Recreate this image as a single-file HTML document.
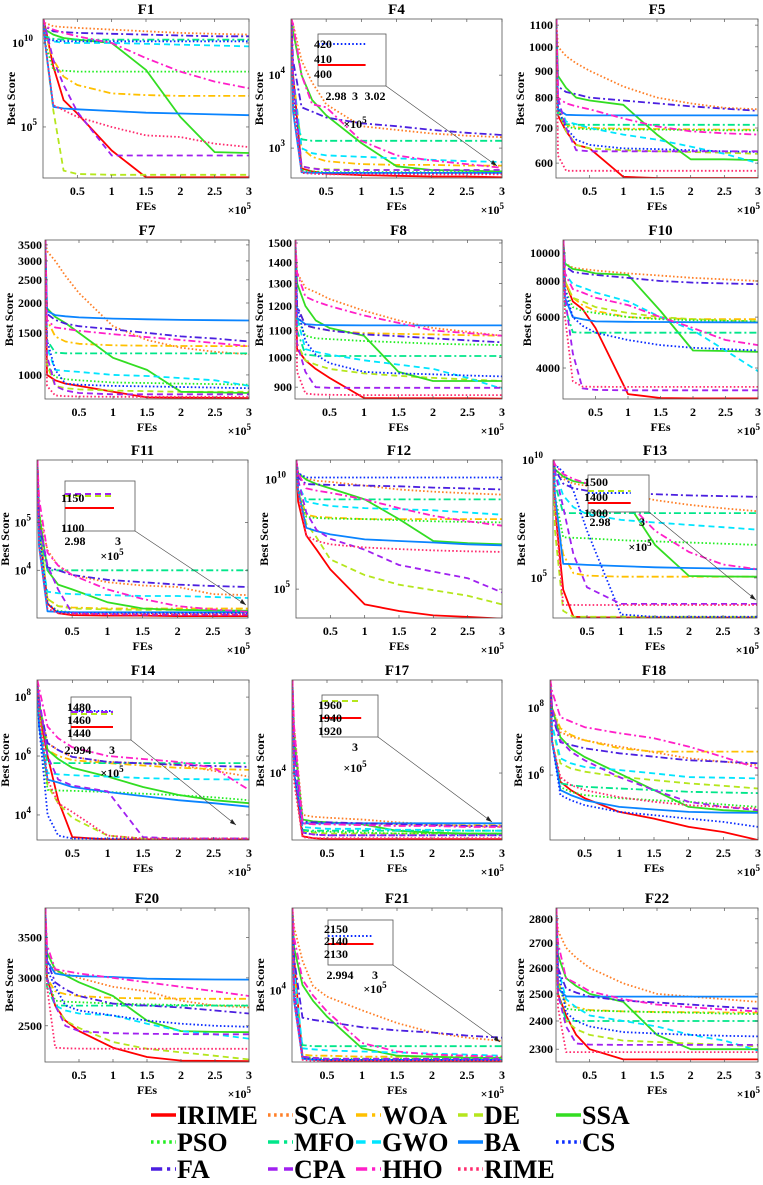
<!DOCTYPE html>
<html><head><meta charset="utf-8">
<style>
html,body{margin:0;padding:0;background:#fff;}
svg{display:block;}
svg text{font-family:"Liberation Serif","Times New Roman",serif;font-weight:bold;}
</style></head>
<body>
<svg id="fig" width="763" height="1185" viewBox="0 0 763 1185" xmlns="http://www.w3.org/2000/svg" font-family="Liberation Serif, serif" font-weight="bold"></svg>
<script>
// ---- data ----
const xPoints = [0.03,0.15,0.3,0.5,1,1.5,2,2.5,3]; // FEs x1e5
const algoNames = ["IRIME","SCA","WOA","DE","SSA","PSO","MFO","GWO","BA","CS","FA","CPA","HHO","RIME"];
const panelTitles = ["F1","F4","F5","F7","F8","F10","F11","F12","F13","F14","F17","F18","F20","F21","F22"];
const xTickLabels = ["0.5","1","1.5","2","2.5","3"];
// per-panel values (exp panels store log10 of score)
const F1 = [
[11,8.6,6.6,5.8,3.6,2.0,2.0,2.0,2.0],
[11.2,11.0,10.95,10.9,10.8,10.7,10.6,10.55,10.5],
[10.5,9,8,7.5,7,6.9,6.85,6.85,6.85],
[10,6,2.4,2.2,2.15,2.15,2.15,2.15,2.15],
[10.8,10.5,10.3,10.2,10.0,8.4,5.6,3.5,3.45],
[10,8.4,8.35,8.3,8.3,8.3,8.3,8.3,8.3],
[10.4,10.25,10.2,10.2,10.2,10.2,10.2,10.2,10.2],
[10.2,10.1,10.0,10.0,10.0,9.95,9.9,9.85,9.8],
[10,6.2,6.1,6.05,5.95,5.85,5.8,5.75,5.7],
[10.3,10.15,10.1,10.1,10.1,10.1,10.1,10.1,10.1],
[11,10.7,10.65,10.6,10.55,10.5,10.45,10.4,10.4],
[11,9,7.5,5.9,3.3,3.3,3.3,3.3,3.3],
[11,10.8,10.6,10.4,10.0,9.1,8.3,7.7,7.3],
[10,6.3,6.0,5.6,5.0,4.5,4.4,4.0,3.8]];
const F4 = [
[4.0,2.72,2.68,2.65,2.63,2.62,2.61,2.61,2.6],
[4.7,4.2,3.9,3.6,3.3,3.25,3.2,3.17,3.15],
[4.0,3.0,2.88,2.82,2.78,2.77,2.77,2.76,2.76],
[4.0,2.75,2.72,2.71,2.7,2.7,2.7,2.7,2.7],
[4.6,4.0,3.66,3.45,3.07,2.75,2.7,2.69,2.68],
[3.8,2.7,2.68,2.67,2.67,2.67,2.67,2.67,2.67],
[3.6,3.12,3.1,3.1,3.1,3.1,3.1,3.1,3.1],
[4.0,3.0,2.93,2.9,2.88,2.86,2.84,2.82,2.81],
[3.5,2.67,2.66,2.66,2.66,2.66,2.66,2.66,2.66],
[3.8,2.66,2.65,2.65,2.65,2.65,2.65,2.65,2.65],
[4.2,3.56,3.5,3.42,3.34,3.3,3.25,3.21,3.18],
[4.0,2.75,2.72,2.7,2.7,2.7,2.7,2.7,2.7],
[4.7,4.0,3.6,3.56,3.1,2.9,2.83,2.78,2.73],
[3.6,2.66,2.65,2.64,2.64,2.64,2.64,2.64,2.64]];
const F5 = [
[740,690,650,640,565,562,562,562,562],
[1000,960,930,900,840,800,780,765,760],
[760,710,702,700,698,697,696,695,695],
[760,690,650,640,635,632,630,628,625],
[880,835,800,790,775,680,610,610,608],
[760,705,698,696,695,695,694,693,693],
[740,712,710,710,710,710,710,710,710],
[780,720,712,700,680,665,645,625,600],
[760,742,741,740,740,740,740,740,740],
[760,700,665,650,640,638,635,632,630],
[840,820,812,800,790,780,770,762,755],
[800,700,635,632,632,632,632,632,632],
[800,780,770,760,730,705,690,684,680],
[620,580,580,580,580,580,580,580,580]];
const F7 = [
[1000,950,920,900,850,805,803,802,800],
[3300,3000,2600,2200,1600,1400,1300,1250,1220],
[1700,1450,1380,1350,1330,1325,1322,1320,1320],
[1100,900,880,870,860,855,850,850,850],
[1900,1750,1650,1500,1180,1050,850,845,840],
[1100,980,960,950,930,925,920,915,910],
[1400,1240,1232,1230,1230,1230,1230,1230,1230],
[1300,1050,1040,1030,1000,990,970,950,900],
[1850,1780,1760,1740,1720,1710,1700,1695,1690],
[1400,1050,920,910,900,895,890,885,880],
[1800,1700,1640,1600,1550,1500,1450,1420,1380],
[1200,900,860,840,830,830,830,830,830],
[1700,1580,1560,1530,1480,1440,1400,1360,1320],
[900,820,815,812,810,810,810,810,810]];
const F8 = [
[1030,990,960,930,866,865,865,865,864],
[1350,1280,1260,1230,1180,1140,1110,1095,1080],
[1200,1120,1110,1100,1090,1087,1085,1082,1080],
[1050,990,975,960,945,937,930,925,920],
[1300,1200,1140,1110,1080,950,920,920,920],
[1150,1080,1070,1067,1060,1055,1050,1047,1045],
[1100,1010,1006,1005,1005,1005,1005,1005,1005],
[1150,1030,1020,1010,990,975,960,930,895],
[1150,1125,1122,1121,1120,1120,1120,1120,1120],
[1200,1060,1010,980,950,945,942,938,935],
[1200,1120,1110,1100,1085,1078,1070,1062,1055],
[1050,950,900,898,898,898,898,898,898],
[1350,1240,1220,1200,1160,1130,1100,1090,1080],
[950,880,877,876,875,875,875,875,875]];
const F10 = [
[8000,6800,6400,5500,3250,3150,3140,3140,3140],
[9200,8900,8800,8700,8500,8350,8200,8100,8000],
[8000,7000,6600,6300,6000,5950,5900,5900,5900],
[8000,7000,6800,6500,6200,6000,5900,5850,5800],
[9200,8800,8700,8500,8400,6300,4600,4580,4550],
[7500,6500,6300,6200,6000,5900,5850,5820,5800],
[6500,5320,5300,5300,5300,5300,5300,5300,5300],
[8500,7800,7600,7300,6800,6000,5400,4600,3900],
[7000,6000,5900,5800,5780,5770,5760,5755,5750],
[7500,6000,5600,5300,5000,4800,4700,4650,4600],
[9000,8600,8500,8400,8200,8000,7900,7850,7800],
[7000,4500,3400,3360,3350,3350,3350,3350,3350],
[8500,7500,7300,7000,6600,6000,5500,5000,4800],
[6000,3600,3450,3445,3440,3440,3440,3440,3440]];
const F11 = [
[5,3.3,3.1,3.06,3.05,3.05,3.04,3.04,3.04],
[5.2,4.42,4.1,3.9,3.75,3.68,3.65,3.5,3.48],
[5,3.4,3.25,3.22,3.2,3.2,3.2,3.2,3.2],
[5,3.4,3.25,3.2,3.18,3.17,3.17,3.16,3.16],
[5.2,4.0,3.7,3.6,3.33,3.2,3.17,3.16,3.15],
[4.8,3.3,3.15,3.12,3.11,3.1,3.1,3.1,3.1],
[4.8,4.0,4.0,4.0,4.0,4.0,4.0,4.0,4.0],
[4.5,3.55,3.52,3.5,3.48,3.46,3.46,3.44,3.42],
[4.5,3.14,3.13,3.12,3.12,3.12,3.12,3.12,3.12],
[4.8,3.3,3.12,3.1,3.1,3.1,3.1,3.1,3.1],
[5,4.06,4.0,3.9,3.8,3.75,3.7,3.67,3.65],
[5,4.1,3.6,3.1,3.08,3.07,3.07,3.07,3.07],
[5.5,4.37,4.1,3.9,3.6,3.4,3.25,3.18,3.13],
[4.5,3.2,3.1,3.09,3.08,3.08,3.08,3.08,3.08]];
const F12 = [
[9,7.45,6.8,5.9,4.3,4.0,3.8,3.73,3.65],
[10.3,10.05,9.95,9.9,9.73,9.55,9.45,9.38,9.32],
[9.5,8.4,8.3,8.27,8.2,8.2,8.2,8.2,8.2],
[9.5,8.0,7.36,6.36,5.64,5.2,4.95,4.7,4.3],
[10.3,10.0,9.8,9.6,9.1,8.2,7.2,7.1,7.05],
[9.5,8.3,8.25,8.22,8.2,8.15,8.1,8.07,8.05],
[9.5,9.1,9.1,9.1,9.1,9.1,9.1,9.1,9.1],
[9.8,9.0,8.9,8.8,8.7,8.65,8.6,8.5,8.4],
[9.5,7.8,7.65,7.5,7.27,7.2,7.13,7.05,7.0],
[10.3,10.1,10.1,10.1,10.1,10.1,10.1,10.1,10.1],
[10.1,9.8,9.78,9.76,9.73,9.7,9.64,9.6,9.55],
[10,8.5,7.7,7.3,6.8,6.1,5.8,5.5,4.85],
[10.3,9.6,9.5,9.4,9.1,8.7,8.35,8.1,7.9],
[9.5,7.45,7.2,7.05,6.9,6.83,6.77,6.73,6.7]];
const F13 = [
[8,4.5,3.35,3.33,3.32,3.32,3.32,3.32,3.32],
[9.6,9.2,9.0,8.9,8.6,8.3,8.1,7.95,7.83],
[8,6.0,5.2,5.1,5.05,5.05,5.05,5.05,5.05],
[7,3.6,3.35,3.35,3.35,3.35,3.35,3.35,3.35],
[9.6,9.3,9.1,9.0,8.6,6.4,5.08,5.06,5.05],
[8.5,6.72,6.7,6.68,6.6,6.55,6.5,6.45,6.4],
[9,7.75,7.75,7.75,7.75,7.75,7.75,7.75,7.75],
[9.5,8.5,8.0,7.7,7.46,7.35,7.25,7.15,7.05],
[8.5,5.6,5.58,5.55,5.5,5.45,5.42,5.4,5.37],
[9.8,9.5,8.7,7.0,3.45,3.35,3.35,3.35,3.35],
[9.6,9.0,8.8,8.7,8.6,8.55,8.5,8.47,8.44],
[9.5,8.0,6.0,4.6,3.9,3.9,3.9,3.9,3.9],
[9.8,9.4,9.2,9.0,8.5,7.0,6.1,5.57,5.37],
[8,3.85,3.85,3.85,3.85,3.85,3.85,3.85,3.85]];
const F14 = [
[7.5,6.0,4.5,3.25,3.17,3.17,3.17,3.17,3.17],
[7.8,6.44,6.2,5.97,5.8,5.76,5.7,5.5,5.3],
[7.8,6.2,6.0,5.86,5.76,5.68,5.6,5.56,5.53],
[7.5,5.0,4.4,3.9,3.3,3.2,3.2,3.2,3.2],
[7.8,6.2,5.9,5.6,5.3,4.95,4.68,4.5,4.4],
[7,4.85,4.83,4.82,4.78,4.72,4.67,4.6,4.5],
[7,5.76,5.76,5.76,5.76,5.76,5.76,5.76,5.76],
[7,5.42,5.38,5.35,5.3,5.25,5.22,5.21,5.2],
[7,5.2,5.1,4.95,4.78,4.64,4.5,4.4,4.28],
[7,4.0,3.3,3.2,3.2,3.2,3.2,3.2,3.2],
[7.8,6.44,6.2,5.97,5.8,5.75,5.7,5.66,5.63],
[8,6.0,5.2,5.0,4.8,3.25,3.2,3.2,3.2],
[8.3,7.0,6.6,6.3,6.0,5.9,5.8,5.6,4.85],
[7.5,5.2,4.4,4.1,3.3,3.2,3.2,3.2,3.2]];
const F17 = [
[4.0,3.32,3.3,3.29,3.29,3.29,3.29,3.29,3.29],
[4.5,3.55,3.53,3.52,3.5,3.47,3.45,3.43,3.42],
[4.2,3.46,3.45,3.45,3.44,3.44,3.44,3.44,3.44],
[4.2,3.38,3.36,3.35,3.35,3.35,3.35,3.35,3.35],
[4.4,3.5,3.48,3.47,3.45,3.38,3.36,3.35,3.35],
[4.0,3.38,3.37,3.37,3.36,3.35,3.35,3.34,3.34],
[4.0,3.39,3.38,3.38,3.38,3.38,3.38,3.38,3.38],
[4.2,3.42,3.41,3.4,3.4,3.39,3.39,3.38,3.38],
[4.0,3.46,3.46,3.46,3.46,3.46,3.46,3.46,3.46],
[4.0,3.36,3.34,3.33,3.33,3.33,3.33,3.33,3.33],
[4.3,3.48,3.47,3.47,3.46,3.45,3.44,3.43,3.43],
[4.2,3.36,3.34,3.33,3.33,3.33,3.33,3.33,3.33],
[4.5,3.46,3.45,3.45,3.44,3.43,3.43,3.42,3.42],
[3.9,3.31,3.3,3.3,3.3,3.3,3.3,3.3,3.3]];
const F18 = [
[7,5.8,5.55,5.31,4.9,4.7,4.45,4.3,4.06],
[8,7.28,7.15,7.04,6.85,6.68,6.5,6.4,6.3],
[8,7.4,7.2,7.04,6.8,6.7,6.7,6.7,6.7],
[7.5,6.35,6.2,6.1,5.95,5.85,5.75,5.68,5.6],
[8,7.13,6.8,6.54,6.05,5.55,5.05,4.95,4.9],
[7,5.64,5.5,5.4,5.31,5.25,5.2,5.12,5.05],
[7,5.75,5.7,5.65,5.6,5.55,5.5,5.48,5.46],
[7.5,6.5,6.35,6.24,6.15,6.05,5.94,5.92,5.9],
[7,5.55,5.4,5.25,5.05,4.97,4.9,4.88,4.87],
[7,5.4,5.25,5.1,4.9,4.8,4.7,4.6,4.45],
[7.8,6.98,6.9,6.8,6.65,6.55,6.44,6.4,6.35],
[8,7.04,6.7,6.44,5.94,5.55,5.2,5.05,4.95],
[8.5,7.73,7.6,7.43,7.25,7.1,6.85,6.54,6.2],
[7,5.94,5.7,5.55,5.34,5.2,5.1,5.05,5.0]];
const F20 = [
[3000,2700,2550,2450,2300,2220,2190,2187,2185],
[3200,3080,3050,3000,2900,2850,2750,2700,2680],
[3000,2850,2820,2800,2780,2775,2772,2770,2770],
[3000,2700,2550,2480,2350,2290,2260,2230,2200],
[3300,3100,3030,2950,2800,2550,2450,2442,2440],
[3000,2750,2740,2735,2720,2712,2706,2702,2700],
[2900,2702,2700,2700,2700,2700,2700,2700,2700],
[3000,2700,2650,2620,2600,2520,2450,2420,2380],
[3200,3050,3030,3020,3010,2990,2985,2982,2980],
[3100,2900,2700,2650,2600,2550,2520,2500,2490],
[3200,2950,2870,2800,2720,2700,2680,2650,2620],
[3000,2700,2500,2450,2430,2425,2422,2420,2420],
[3400,3100,3080,3050,3000,2950,2900,2850,2800],
[2900,2300,2295,2292,2290,2290,2290,2290,2290]];
const F21 = [
[4.3,3.36,3.34,3.33,3.33,3.33,3.33,3.33,3.33],
[4.6,4.28,4.04,3.94,3.81,3.69,3.6,3.55,3.52],
[4.2,3.39,3.38,3.38,3.37,3.37,3.37,3.37,3.37],
[4.0,3.37,3.36,3.35,3.35,3.35,3.35,3.35,3.35],
[4.4,4.05,3.9,3.75,3.45,3.38,3.37,3.36,3.36],
[4.0,3.37,3.36,3.35,3.35,3.35,3.35,3.35,3.35],
[4.0,3.48,3.47,3.47,3.47,3.47,3.47,3.47,3.47],
[4.2,3.45,3.44,3.43,3.42,3.41,3.4,3.39,3.38],
[3.9,3.35,3.34,3.34,3.34,3.34,3.34,3.34,3.34],
[4.0,3.36,3.35,3.34,3.34,3.34,3.34,3.34,3.34],
[4.3,3.74,3.72,3.7,3.65,3.62,3.6,3.57,3.55],
[4.0,3.37,3.36,3.35,3.35,3.35,3.35,3.35,3.35],
[4.5,4.1,3.95,3.8,3.5,3.42,3.39,3.38,3.37],
[3.9,3.34,3.33,3.33,3.33,3.33,3.33,3.33,3.33]];
const F22 = [
[2500,2420,2350,2300,2265,2265,2265,2265,2265],
[2750,2680,2640,2600,2540,2500,2490,2480,2470],
[2550,2460,2450,2440,2435,2433,2432,2431,2430],
[2500,2400,2370,2350,2330,2325,2320,2315,2310],
[2650,2560,2530,2500,2470,2350,2300,2300,2300],
[2550,2445,2440,2438,2435,2432,2430,2427,2425],
[2500,2402,2400,2400,2400,2400,2400,2400,2400],
[2600,2480,2450,2420,2400,2380,2350,2330,2295],
[2520,2491,2490,2490,2490,2490,2490,2490,2490],
[2600,2430,2400,2380,2360,2355,2350,2347,2345],
[2600,2520,2505,2490,2475,2468,2460,2452,2445],
[2500,2380,2320,2316,2315,2315,2315,2315,2315],
[2700,2560,2540,2510,2480,2460,2450,2442,2435],
[2450,2290,2290,2290,2290,2290,2290,2290,2290]];
const panelSeries = [F1,F4,F5,F7,F8,F10,F11,F12,F13,F14,F17,F18,F20,F21,F22];
// axis domains (exp panels: log10 units)
const yDomains = [[1.96,11.43],[2.59,4.77],[562,1130],[793,3670],[863,1516],[3125,11090],[3.0,6.31],[3.68,10.9],[3.3,10.0],[3.15,8.58],[3.28,5.0],[4.06,8.84],[2178,3914],[3.32,4.78],[2256,2846]];
const expPanel = [true,true,false,false,false,false,true,true,true,true,true,true,false,true,false];
const yTickValues = [[5,10],[3,4],[600,700,800,900,1000,1100],[1000,1500,2000,2500,3000,3500],[900,1000,1100,1200,1300,1400,1500],[4000,6000,8000,10000],[4,5],[5,10],[5,10],[4,6,8],[4],[6,8],[2500,3000,3500],[4],[2300,2400,2500,2600,2700,2800]];

// ---- layout ----
const rowTB = [[19,178],[240,399],[460,618],[680,840],[908,1062]];
const panelLR = [[43,249],[291,502],[556,758],[45,249],[295,502],[563,758],[37,248],[296,502],[553,757],[37,249],[292,502],[550,758],[45,249],[292,502],[556,758]];
const colors = ["#ff0000","#ff7f27","#ffc000","#b5e61d","#33dd22","#22ee22","#00e68a","#00e5ff","#0a84ff","#0a2cff","#4b1fe0","#a020f0","#ff1fc8","#ff2a6d"];
const dashes = ["", "1.6,2.2", "7,3,2,3", "6,4", "", "1.6,2.2", "7,3,2,3", "6,4", "", "1.6,2.2", "7,3,2,3", "6,4", "7,3,2,3", "1.6,2.2"];
const FONT = "Liberation Serif, Times New Roman, serif";
const NS="http://www.w3.org/2000/svg";
const svg=document.getElementById('fig');
function mk(tag,attrs,parent){const e=document.createElementNS(NS,tag);for(const k in attrs)e.setAttribute(k,attrs[k]);if(tag==='text'){e.setAttribute('font-family',FONT);e.setAttribute('font-weight','bold');}(parent||svg).appendChild(e);return e;}

panelTitles.forEach((title,p)=>{
  const r=Math.floor(p/3);
  const [L,R]=panelLR[p]; const [T,B]=rowTB[r];
  const [d0,d1]=yDomains[p]; const ex=expPanel[p];
  const tr=v=>ex?v:Math.log10(v);
  const l0=tr(d0), l1=tr(d1);
  const sx=x=>L+(x/3)*(R-L);
  const sy=v=>B-(tr(v)-l0)/(l1-l0)*(B-T);
  const g=mk('g',{});
  
  
  const clipId='c'+p;
  const cp=mk('clipPath',{id:clipId},g); mk('rect',{x:L,y:T,width:R-L,height:B-T},cp);
  const t=mk('text',{x:(L+R)/2,y:T-5,'text-anchor':'middle','font-size':15},g);
    t.textContent=title;
  const lines=mk('g',{'clip-path':'url(#'+clipId+')'},g);
  panelSeries[p].forEach((vals,s)=>{
    let d='M'+sx(0.005).toFixed(1)+','+T;
    vals.forEach((v,i)=>{d+=' L'+sx(xPoints[i]).toFixed(1)+','+sy(v).toFixed(1);});
    const pth=mk('path',{d:d,fill:'none',stroke:colors[s],'stroke-width':1.8,'stroke-dasharray':dashes[s],'stroke-linejoin':'round'},lines);
    
    
  });
  const box=mk('rect',{x:L,y:T,width:R-L,height:B-T,fill:'none',stroke:'#555','stroke-width':0.8},g);
   
  xTickLabels.forEach(lab=>{
    const x=sx(parseFloat(lab));
    mk('line',{x1:x,y1:B,x2:x,y2:B-3,stroke:'#555','stroke-width':0.7},g);
    mk('line',{x1:x,y1:T,x2:x,y2:T+3,stroke:'#555','stroke-width':0.7},g);
    const tx=mk('text',{x:x,y:B+17,'text-anchor':'middle','font-size':12},g);
      tx.textContent=lab;
  });
  const xl=mk('text',{x:(L+R)/2,y:B+32,'text-anchor':'middle','font-size':12},g);
    xl.textContent='FEs';
  const xm=mk('text',{x:R+2,y:B+36,'text-anchor':'end','font-size':12},g);
   
  xm.innerHTML='\u00d710<tspan dy="-5" font-size="9">5</tspan>';
  yTickValues[p].forEach(v=>{
    const y=sy(v);
    mk('line',{x1:L,y1:y,x2:L+3,y2:y,stroke:'#555','stroke-width':0.7},g);
    mk('line',{x1:R,y1:y,x2:R-3,y2:y,stroke:'#555','stroke-width':0.7},g);
    const ty=mk('text',{x:L-3,y:y+4,'text-anchor':'end','font-size':12},g);
     
    if(ex){ty.innerHTML='10<tspan dy="-6" font-size="9">'+v+'</tspan>';ty.setAttribute('x',L-(v>=10?10:6));}
    else ty.textContent=v;
  });
  const yl=mk('text',{x:0,y:0,'text-anchor':'middle','font-size':12,transform:'translate('+(L-(ex?28:32))+','+((T+B)/2)+') rotate(-90)'},g);
    yl.textContent='Best Score';
});

// ---- insets (zoom boxes) ----
const insets=[
 {box:[318,34,386,86],labs:["420","410","400"],labY:[44,59,74],xl:["2.98","3","3.02"],xlx:[336,355,375],lines:[["#0a2cff","1.6,2.2",44],["#ff0000","",65]],end:[497,166],mult:[355,128]},
 {box:[65,481,135,531],labs:["1150","1100"],labY:[498,528],xl:["2.98","3"],xlx:[75,118],lines:[["#a020f0","6,4",494],["#b5e61d","6,4",496],["#ff0000","",508]],end:[246,605],mult:[112,560]},
 {box:[588,475,649,512],labs:["1500","1400","1300"],labY:[482,497,513],xl:["2.98","3"],xlx:[600,642],lines:[["#b5e61d","6,4",491],["#0a2cff","1.6,2.2",493],["#ff0000","",503]],end:[756,600],mult:[640,551]},
 {box:[71,697,131,740],labs:["1480","1460","1440"],labY:[707,720,733],xl:["2.994","3"],xlx:[78,112],lines:[["#0a2cff","1.6,2.2",711],["#a020f0","7,3,2,3",712],["#b5e61d","6,4",714],["#ff0000","",727]],end:[236,825],mult:[112,777]},
 {box:[322,695,378,737],labs:["1960","1940","1920"],labY:[705,718,731],xl:["3"],xlx:[355],lines:[["#b5e61d","6,4",701],["#ff0000","",718]],end:[492,822],mult:[355,772]},
 {box:[328,920,393,965],labs:["2150","2140","2130"],labY:[929,941,954],xl:["2.994","3"],xlx:[340,375],lines:[["#0a2cff","1.6,2.2",936],["#ff0000","",944]],end:[500,1042],mult:[375,993]}
];
insets.forEach((ins,i)=>{
  const g=mk('g',{});
   
  const [x0,y0,x1,y1]=ins.box;
  mk('rect',{x:x0,y:y0,width:x1-x0,height:y1-y0,fill:'#fff',stroke:'#555','stroke-width':0.8},g);
  ins.lines.forEach(l=>mk('line',{x1:x0,y1:l[2],x2:x1-(x1-x0)*0.3,y2:l[2],stroke:l[0],'stroke-width':2,'stroke-dasharray':l[1]},g));
  const ly=ins.labY;
  ins.labs.forEach((lb,k)=>{const t=mk('text',{x:x0-4,y:ly[k]+4,'font-size':12},g);t.textContent=lb;});
  ins.xl.forEach((lb,k)=>{const t=mk('text',{x:ins.xlx[k],y:y1+14,'text-anchor':'middle','font-size':12},g);t.textContent=lb;});
  const m=mk('text',{x:ins.mult[0],y:ins.mult[1],'text-anchor':'middle','font-size':12},g);
  m.innerHTML='\u00d710<tspan dy="-5" font-size="9">5</tspan>';
  mk('line',{x1:x1,y1:y1,x2:ins.end[0],y2:ins.end[1],stroke:'#444','stroke-width':0.6},g);
  mk('path',{d:'M'+ins.end[0]+','+ins.end[1]+' l-6,-2 l2,-4 z',fill:'#222'},g);
});

// ---- legend ----
const legX=[151,268,356,458,556];
const legY=[1115,1142,1169];
const lg=mk('g',{});
 
algoNames.forEach((n,s)=>{
  const cx=legX[s%5], cy=legY[Math.floor(s/5)];
  const e=mk('g',{},lg);
  
  
  mk('line',{x1:cx,y1:cy,x2:cx+25,y2:cy,stroke:colors[s],'stroke-width':3.5,'stroke-dasharray':dashes[s]?dashes[s].split(',').map(v=>v*1.6).join(','):''},e);
  const t=mk('text',{x:cx+26,y:cy+9,'font-size':26},e); t.textContent=n;
});
</script>
</body></html>
